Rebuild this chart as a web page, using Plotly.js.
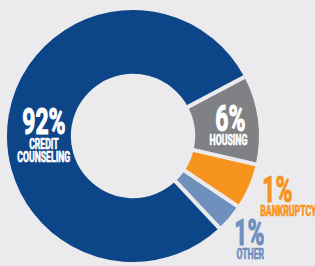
<!DOCTYPE html>
<html>
<head>
<meta charset="utf-8">
<script src="https://cdn.plot.ly/plotly-3.0.1.min.js"></script>
<style>
html,body{margin:0;padding:0;background:#ebebee;}
#chart{width:315px;height:266px;}
</style>
</head>
<body>
<div id="chart"></div>
<script>
// Categories in clockwise order starting at the housing slice
const categories = ["HOUSING", "BANKRUPTCY", "OTHER", "CREDIT<br>COUNSELING"];
// Printed percentages
const pctLabels = ["6%", "1%", "1%", "92%"];
// Slice sizes as drawn in the picture (the graphic exaggerates the small slices)
const sliceSizes = [11.4, 5.8, 3.6, 79.2];
const colors = ["#808184", "#f7941e", "#6f8fbd", "#0d4688"];
const labelColors = ["#ffffff", "#f7941e", "#6f8fbd", "#ffffff"];
const bg = "#ebebee";

const font = "Roboto, sans-serif";

const trace = {
  type: "pie",
  values: sliceSizes,
  labels: categories,
  sort: false,
  direction: "clockwise",
  rotation: 62,
  hole: 0.47,
  textinfo: "none",
  hoverinfo: "none",
  marker: {colors: colors, line: {color: bg, width: 4}},
  domain: {x: [5/315, 261/315], y: [2/266, 258/266]},
  showlegend: false
};

// Label positions (pixels from top-left) for each category
const bigPos = [[230, 118.5], [277, 189.5], [249, 232.5], [44, 121.5]];
const smallPos = [[228, 140], [288, 211], [250, 254], [44, 144]];
const lineGap = 12.5;
const annotations = [];
for (let i = 0; i < categories.length; i++) {
  annotations.push({
    x: bigPos[i][0] / 315, y: 1 - bigPos[i][1] / 266, xref: "paper", yref: "paper",
    text: "<b>" + pctLabels[i] + "</b>", showarrow: false,
    font: {family: font, size: 37, color: labelColors[i]}, xanchor: "center", yanchor: "middle"
  });
  const lines = categories[i].split("<br>");
  lines.forEach((ln, j) => {
    annotations.push({
      x: smallPos[i][0] / 315, y: 1 - (smallPos[i][1] + j * lineGap) / 266, xref: "paper", yref: "paper",
      text: "<b>" + ln + "</b>", showarrow: false,
      font: {family: font, size: 14, color: labelColors[i]}, xanchor: "center", yanchor: "middle"
    });
  });
}

const layout = {
  width: 315, height: 266,
  margin: {l: 0, r: 0, t: 0, b: 0},
  paper_bgcolor: bg, plot_bgcolor: bg,
  annotations: annotations
};
Plotly.newPlot("chart", [trace], layout, {displayModeBar: false, staticPlot: true}).then(gd => {
  // condense the lettering horizontally (the original uses a heavy condensed gothic face)
  gd.querySelectorAll("text.annotation-text").forEach(t => {
    const size = parseFloat(t.style.fontSize);
    const big = size > 20;
    const sx = 0.62;
    const b = t.getBBox();
    const cx = b.x + b.width / 2;
    t.setAttribute("transform", `translate(${cx},0) scale(${sx},1) translate(${-cx},0)`);
    t.style.stroke = t.style.fill;
    t.style.strokeWidth = big ? "1.2px" : "0.7px";
    t.style.strokeLinejoin = "round";
  });
});
</script>
</body>
</html>
